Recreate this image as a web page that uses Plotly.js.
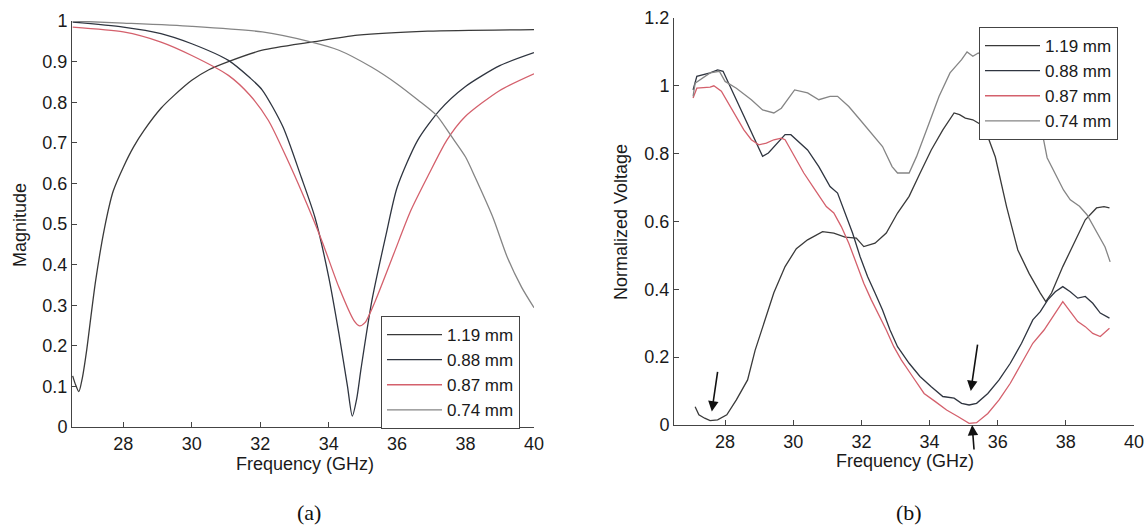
<!DOCTYPE html>
<html>
<head>
<meta charset="utf-8">
<script src="https://cdn.plot.ly/plotly-3.0.1.min.js"></script>
<style>
html,body{margin:0;padding:0;background:#fff;}
#chart{width:1148px;height:531px;}
</style>
</head>
<body>
<div id="chart"></div>
<script>
// ---------- Panel (a): simulated magnitude ----------
var seriesNames = ["1.19 mm", "0.88 mm", "0.87 mm", "0.74 mm"];
var seriesColors = ["#3a3a3a", "#2f3540", "#d4606c", "#858585"];

var fA_119 = [26.52, 26.6, 26.7, 26.8, 26.93, 27.05, 27.19, 27.45, 27.7, 28.0, 28.3, 28.6, 29.1, 29.5, 30.0, 30.5, 31.07, 32.06, 33.5, 34.85, 36.9, 40.0];
var mA_119 = [0.126, 0.105, 0.087, 0.12, 0.19, 0.27, 0.36, 0.49, 0.58, 0.64, 0.69, 0.73, 0.785, 0.818, 0.854, 0.88, 0.90, 0.928, 0.948, 0.965, 0.975, 0.979];

var fA_088 = [26.52, 28.0, 29.1, 30.0, 31.07, 31.7, 32.06, 32.66, 33.2, 33.6, 34.0, 34.3, 34.55, 34.69, 34.82, 34.95, 35.26, 35.68, 36.0, 36.6, 37.24, 37.97, 39.0, 40.0];
var mA_088 = [0.997, 0.985, 0.969, 0.944, 0.903, 0.86, 0.83, 0.74, 0.615, 0.516, 0.37, 0.23, 0.1, 0.027, 0.07, 0.146, 0.31, 0.475, 0.59, 0.706, 0.78, 0.837, 0.89, 0.922];

var fA_087 = [26.52, 28.0, 29.1, 30.0, 31.07, 31.7, 32.24, 32.76, 33.28, 33.8, 34.3, 34.74, 34.9, 35.06, 35.36, 35.9, 36.4, 36.93, 37.45, 37.97, 39.0, 40.0];
var mA_087 = [0.985, 0.973, 0.948, 0.915, 0.866, 0.817, 0.755, 0.665, 0.566, 0.459, 0.344, 0.262, 0.249, 0.257, 0.31, 0.426, 0.533, 0.623, 0.706, 0.763, 0.829, 0.87];

var fA_074 = [26.52, 28.0, 30.0, 32.06, 33.5, 34.3, 35.26, 36.0, 36.6, 37.16, 37.57, 38.0, 38.28, 38.8, 39.22, 39.64, 40.0];
var mA_074 = [1.0, 0.995, 0.987, 0.973, 0.948, 0.928, 0.886, 0.845, 0.806, 0.767, 0.718, 0.665, 0.615, 0.516, 0.418, 0.344, 0.294];

// ---------- Panel (b): measured normalized voltage ----------
var fB_119 = [27.12, 27.23, 27.4, 27.56, 27.78, 28.05, 28.33, 28.66, 28.88, 29.16, 29.43, 29.76, 30.09, 30.42, 30.86, 31.19, 31.52, 31.85, 32.07, 32.4, 32.73, 33.06, 33.4, 33.72, 34.05, 34.39, 34.72, 34.88, 35.05, 35.27, 35.6, 35.93, 36.26, 36.59, 36.92, 37.25, 37.41, 37.58, 37.91, 38.24, 38.57, 38.9, 39.12, 39.28];
var vB_119 = [0.054, 0.03, 0.02, 0.013, 0.015, 0.03, 0.074, 0.133, 0.22, 0.31, 0.39, 0.467, 0.52, 0.546, 0.57, 0.566, 0.554, 0.551, 0.526, 0.536, 0.566, 0.625, 0.674, 0.742, 0.811, 0.87, 0.92, 0.915, 0.905, 0.9, 0.88, 0.79, 0.644, 0.516, 0.447, 0.389, 0.364, 0.389, 0.467, 0.536, 0.605, 0.64, 0.644, 0.64];

var fB_088 = [27.06, 27.17, 27.56, 27.78, 27.94, 28.1, 28.33, 28.55, 28.77, 28.99, 29.1, 29.27, 29.54, 29.76, 29.93, 30.2, 30.42, 30.75, 31.08, 31.3, 31.52, 31.74, 31.96, 32.18, 32.4, 32.62, 32.84, 33.06, 33.4, 33.72, 34.05, 34.39, 34.72, 34.94, 35.16, 35.38, 35.71, 36.04, 36.37, 36.7, 37.03, 37.25, 37.47, 37.69, 37.91, 38.13, 38.35, 38.57, 38.79, 39.01, 39.28];
var vB_088 = [0.988, 1.028, 1.038, 1.047, 1.043, 1.008, 0.959, 0.91, 0.861, 0.811, 0.792, 0.802, 0.831, 0.856, 0.856, 0.831, 0.811, 0.762, 0.703, 0.684, 0.625, 0.566, 0.497, 0.438, 0.389, 0.339, 0.28, 0.231, 0.182, 0.143, 0.113, 0.084, 0.079, 0.064, 0.059, 0.064, 0.093, 0.133, 0.182, 0.241, 0.31, 0.334, 0.369, 0.393, 0.408, 0.393, 0.374, 0.379, 0.359, 0.33, 0.315];

var fB_087 = [27.06, 27.17, 27.56, 27.67, 27.89, 28.1, 28.33, 28.55, 28.77, 28.99, 29.21, 29.43, 29.65, 29.76, 29.98, 30.31, 30.64, 30.97, 31.19, 31.41, 31.63, 31.85, 32.07, 32.29, 32.51, 32.73, 32.95, 33.17, 33.5, 33.84, 34.17, 34.5, 34.83, 35.16, 35.38, 35.71, 36.04, 36.37, 36.7, 37.03, 37.36, 37.69, 37.91, 38.13, 38.35, 38.57, 38.79, 39.01, 39.28];
var vB_087 = [0.964, 0.993, 0.996, 1.0, 0.984, 0.949, 0.91, 0.87, 0.841, 0.826, 0.831, 0.841, 0.846, 0.841, 0.802, 0.743, 0.693, 0.644, 0.625, 0.585, 0.536, 0.477, 0.418, 0.369, 0.325, 0.28, 0.231, 0.192, 0.143, 0.093, 0.069, 0.044, 0.025, 0.005, 0.007, 0.034, 0.074, 0.123, 0.182, 0.241, 0.28, 0.33, 0.364, 0.334, 0.305, 0.29, 0.27, 0.261, 0.285];

var fB_074 = [27.06, 27.12, 27.56, 27.83, 28.0, 28.33, 28.77, 29.1, 29.43, 29.65, 30.04, 30.42, 30.75, 31.08, 31.3, 31.63, 31.96, 32.29, 32.62, 32.9, 33.06, 33.4, 33.62, 33.95, 34.28, 34.6, 34.94, 35.1, 35.27, 35.43, 35.8, 36.3, 36.8, 37.1, 37.3, 37.45, 37.7, 37.93, 38.13, 38.4, 38.62, 38.92, 39.15, 39.3];
var vB_074 = [0.969, 1.008, 1.038, 1.043, 1.013, 0.993, 0.959, 0.929, 0.92, 0.934, 0.988, 0.979, 0.959, 0.969, 0.969, 0.939, 0.9, 0.861, 0.821, 0.762, 0.743, 0.743, 0.792, 0.88, 0.969, 1.038, 1.077, 1.1, 1.087, 1.097, 1.07, 1.02, 0.96, 0.91, 0.865, 0.788, 0.74, 0.693, 0.664, 0.645, 0.62, 0.567, 0.525, 0.481];

var xTicks = [28, 30, 32, 34, 36, 38, 40];

// ---------- build ----------
var W = 1148, H = 531;
function px(x) { return x / W; }
function py(y) { return 1 - y / H; }

var fontMain = "Liberation Sans, Arial, sans-serif";
var aData = [[fA_119, mA_119], [fA_088, mA_088], [fA_087, mA_087], [fA_074, mA_074]];
var bData = [[fB_119, vB_119], [fB_088, vB_088], [fB_087, vB_087], [fB_074, vB_074]];

var traces = [];
aData.forEach(function (d, i) {
  traces.push({
    x: d[0], y: d[1], type: "scatter", mode: "lines",
    name: seriesNames[i], xaxis: "x", yaxis: "y", legend: "legend",
    line: { color: seriesColors[i], width: 1.3, shape: "spline", smoothing: 0.7 },
    hoverinfo: "skip"
  });
});
bData.forEach(function (d, i) {
  traces.push({
    x: d[0], y: d[1], type: "scatter", mode: "lines",
    name: seriesNames[i], xaxis: "x2", yaxis: "y2", legend: "legend2",
    line: { color: seriesColors[i], width: 1.3 },
    hoverinfo: "skip"
  });
});

var axisCommon = {
  showgrid: false, zeroline: false, showline: true, linecolor: "#444", linewidth: 1,
  ticks: "inside", ticklen: 5, tickcolor: "#444", mirror: false,
  tickfont: { family: fontMain, size: 18, color: "#1a1a1a" }
};

function ax(extra) { return Object.assign({}, axisCommon, extra); }

var legendCommon = {
  bgcolor: "#ffffff", bordercolor: "#444", borderwidth: 1,
  font: { family: fontMain, size: 17, color: "#1a1a1a" },
  xanchor: "left", tracegroupgap: 0, itemwidth: 55
};

var titleFont = { family: fontMain, size: 18, color: "#1a1a1a" };
var serifFont = { family: "Liberation Serif, Times New Roman, serif", size: 22, color: "#111" };

function label(text, x, y, font, angle) {
  return { text: text, xref: "paper", yref: "paper", x: px(x), y: py(y), xanchor: "center", yanchor: "middle",
           textangle: angle || 0, showarrow: false, font: font };
}

var layout = {
  width: W, height: H,
  margin: { l: 0, r: 0, t: 0, b: 0 },
  paper_bgcolor: "#fff", plot_bgcolor: "#fff",
  showlegend: true,
  xaxis: ax({ domain: [px(72), px(534)], range: [26.5, 40], tickvals: xTicks, anchor: "y" }),
  yaxis: ax({ domain: [py(427), py(21)], range: [0, 1], dtick: 0.1, anchor: "x" }),
  xaxis2: ax({ domain: [px(674), px(1134)], range: [26.5, 40], tickvals: xTicks, anchor: "y2" }),
  yaxis2: ax({ domain: [py(425), py(18)], range: [0, 1.2], dtick: 0.2, anchor: "x2" }),
  legend: Object.assign({}, legendCommon, { x: px(381), y: py(429), yanchor: "bottom" }),
  legend2: Object.assign({}, legendCommon, { x: px(979), y: py(27), yanchor: "top" }),
  annotations: [
    label("Magnitude", 20, 225, titleFont, -90),
    label("Frequency (GHz)", 305, 464, titleFont),
    label("Normalized Voltage", 621, 222, titleFont, -90),
    label("Frequency (GHz)", 905, 461, titleFont),
    label("(a)", 309, 512, serifFont),
    label("(b)", 909, 512, serifFont),
    { text: "", xref: "x2", yref: "y2", x: 27.61, y: 0.04, ax: 6, ay: -41, showarrow: true, arrowhead: 2, arrowsize: 1.3, arrowwidth: 1.6, arrowcolor: "#111" },
    { text: "", xref: "x2", yref: "y2", x: 35.21, y: 0.10, ax: 7, ay: -48, showarrow: true, arrowhead: 2, arrowsize: 1.3, arrowwidth: 1.6, arrowcolor: "#111" },
    { text: "", xref: "x2", yref: "y2", x: 35.25, y: 0.0, ax: 2, ay: 26, showarrow: true, arrowhead: 2, arrowsize: 1.3, arrowwidth: 1.6, arrowcolor: "#111" }
  ]
};

Plotly.newPlot("chart", traces, layout, { staticPlot: true, displayModeBar: false });
</script>
</body>
</html>
